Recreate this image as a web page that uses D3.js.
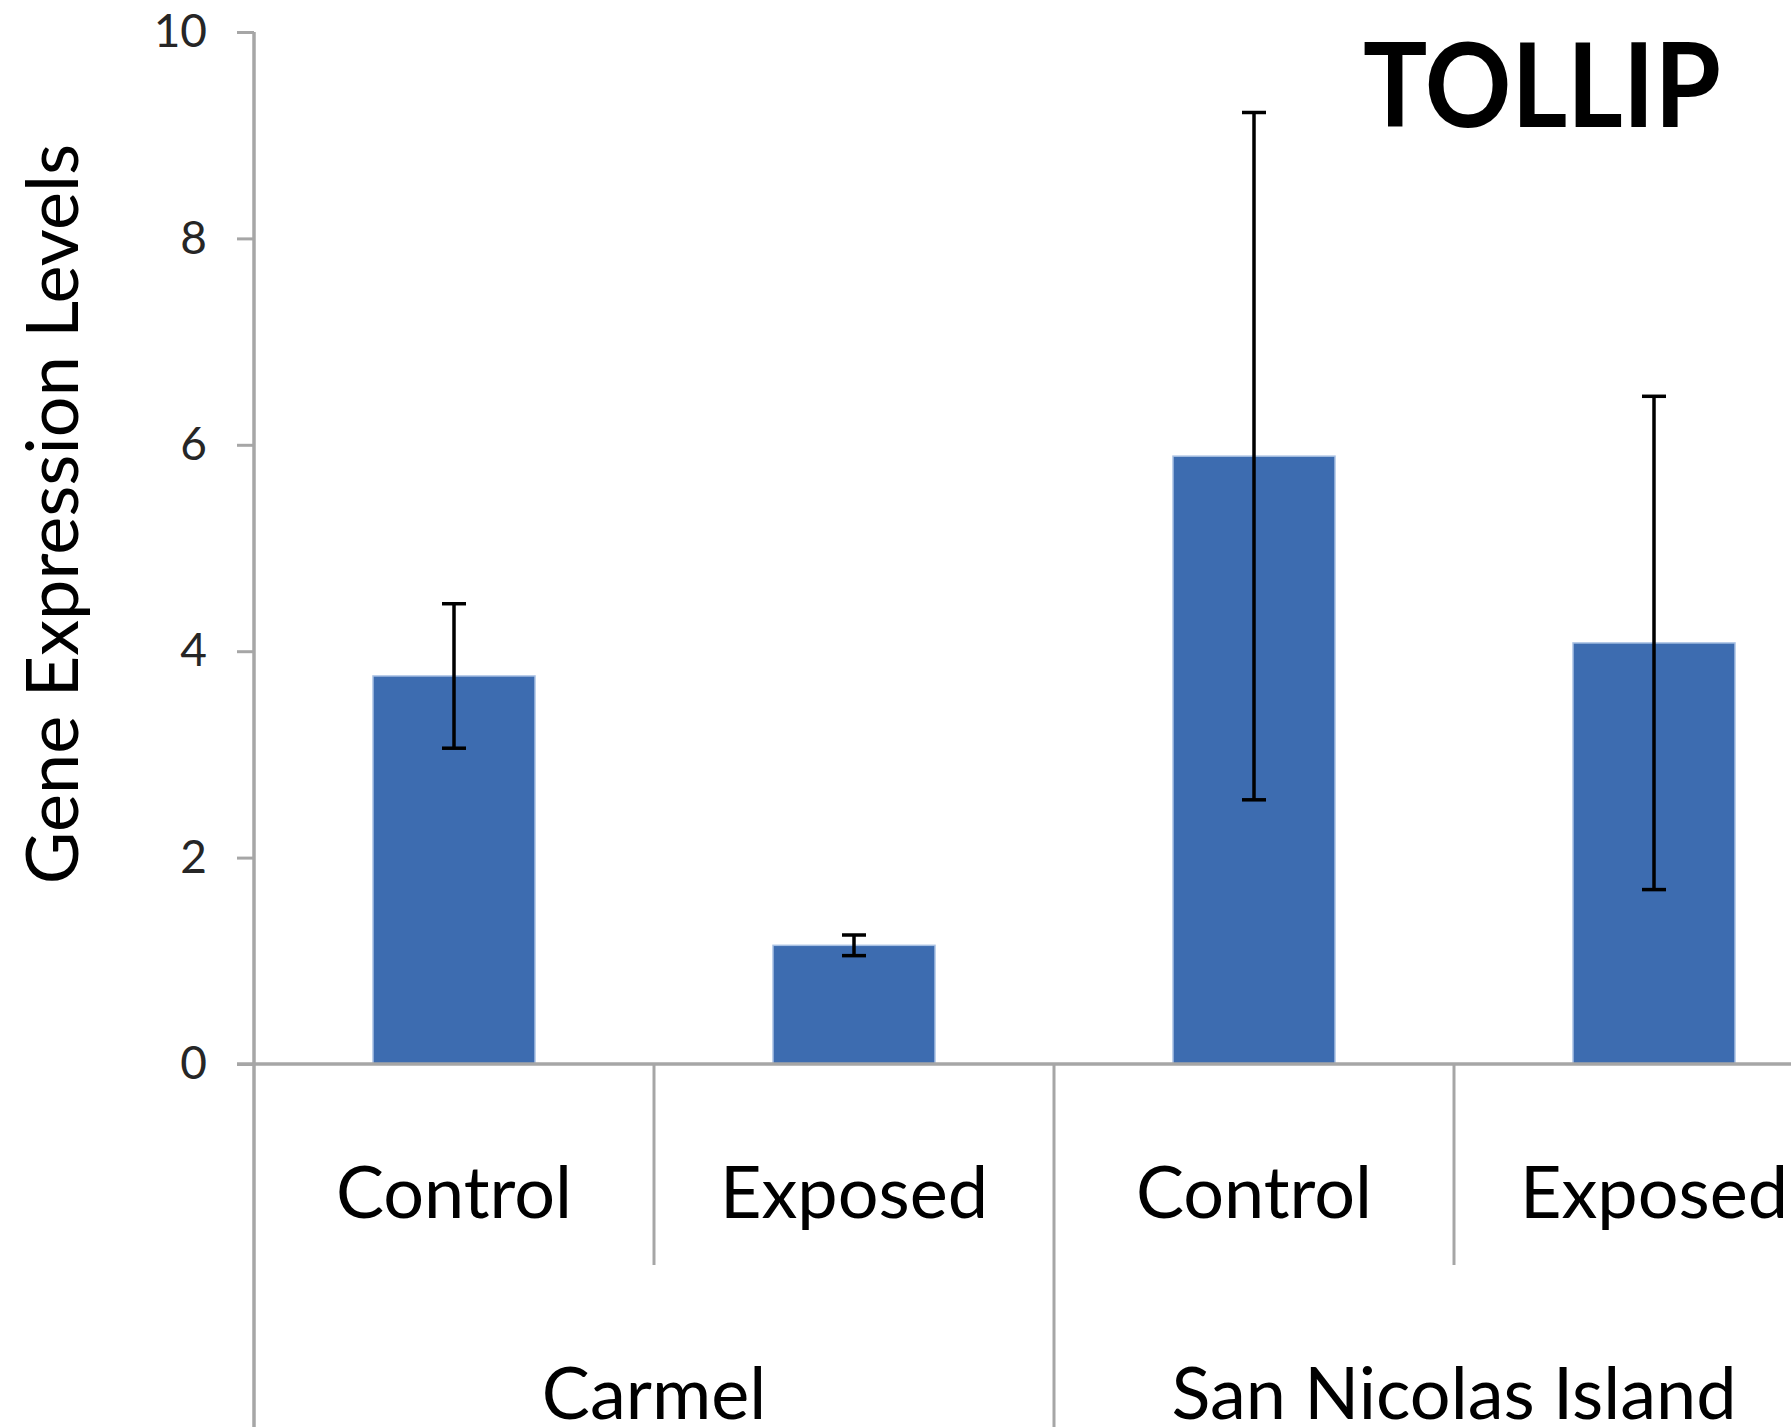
<!DOCTYPE html>
<html>
<head>
<meta charset="utf-8">
<script src="https://cdn.jsdelivr.net/npm/d3@7"></script>
<style>
  html, body { margin: 0; padding: 0; background: #fff; }
  svg { display: block; font-family: Lato, "Open Sans", sans-serif; }
</style>
</head>
<body>
<svg id="chart" width="1791" height="1427"></svg>
<script>
// Chart values
const gene = 'TOLLIP';
const groups = ['Carmel', 'San Nicolas Island'];
const conditions = ['Control', 'Exposed'];
const means = [3.76, 1.15, 5.89, 4.08];
const errors = [0.70, 0.10, 3.33, 2.39];
const yTicks = [0, 2, 4, 6, 8, 10];
const yLabel = 'Gene Expression Levels';

const svg = d3.select('#chart');
const width = 1791, height = 1427;

// plot area runs past the right edge, as in the reference
const margin = { top: 32, left: 254 };
const plotWidth = 1600;
const plotBottom = 1064;

// one row per bar
const rows = [];
groups.forEach((g, i) => {
    conditions.forEach((c, j) => {
        const k = i * conditions.length + j;
        rows.push({ key: g + '|' + c, group: g, cond: c, mean: means[k], err: errors[k] });
    });
});

const xScale = d3.scaleBand()
    .domain(rows.map(d => d.key))
    .range([margin.left, margin.left + plotWidth])
    .padding(0);

const groupScale = d3.scaleBand()
    .domain(groups)
    .range([margin.left, margin.left + plotWidth])
    .padding(0);

const yScale = d3.scaleLinear()
    .domain([0, 10])
    .range([plotBottom, margin.top]);

const axisColor = '#a6a6a6';
const barW = xScale.bandwidth() * 0.405;

// bars
svg.append('g').selectAll('rect')
    .data(rows)
    .join('rect')
    .attr('x', d => xScale(d.key) + (xScale.bandwidth() - barW) / 2)
    .attr('y', d => yScale(d.mean))
    .attr('width', barW)
    .attr('height', d => plotBottom - yScale(d.mean))
    .attr('fill', '#3d6cb0')
    .attr('stroke', '#a9c1e3')
    .attr('stroke-width', 1.5);

// y axis
const yAxis = d3.axisLeft(yScale).tickValues(yTicks).tickSize(17).tickPadding(30);
const gy = svg.append('g')
    .attr('transform', `translate(${margin.left},0)`)
    .call(yAxis);
gy.select('.domain').remove();
gy.selectAll('.tick line').attr('stroke', axisColor).attr('stroke-width', 3);
gy.selectAll('.tick text')
    .attr('fill', '#262626')
    .style('font-size', '46px')
    .style('font-family', 'Lato, sans-serif');
gy.append('line')
    .attr('x1', 0).attr('x2', 0)
    .attr('y1', margin.top).attr('y2', height)
    .attr('stroke', axisColor).attr('stroke-width', 3.5);

// x axis baseline
svg.append('line')
    .attr('x1', margin.left - 17).attr('x2', width)
    .attr('y1', plotBottom).attr('y2', plotBottom)
    .attr('stroke', axisColor).attr('stroke-width', 3.5);

// separators between conditions (short) and between groups (long)
rows.forEach((d, i) => {
    if (i === 0) return;
    const x = xScale(d.key);
    const long = i % conditions.length === 0;
    svg.append('line')
        .attr('x1', x).attr('x2', x)
        .attr('y1', plotBottom).attr('y2', long ? height : 1265)
        .attr('stroke', axisColor).attr('stroke-width', 3);
});
svg.append('line')
    .attr('x1', margin.left + plotWidth).attr('x2', margin.left + plotWidth)
    .attr('y1', plotBottom).attr('y2', height)
    .attr('stroke', axisColor).attr('stroke-width', 3);

// error bars
const eb = svg.append('g').attr('stroke', '#000').attr('stroke-width', 3.5);
rows.forEach(d => {
    const cx = xScale(d.key) + xScale.bandwidth() / 2;
    const hi = yScale(d.mean + d.err), lo = yScale(d.mean - d.err);
    eb.append('line').attr('x1', cx).attr('x2', cx).attr('y1', hi).attr('y2', lo);
    eb.append('line').attr('x1', cx - 12).attr('x2', cx + 12).attr('y1', hi).attr('y2', hi);
    eb.append('line').attr('x1', cx - 12).attr('x2', cx + 12).attr('y1', lo).attr('y2', lo);
});

// condition labels
svg.append('g').selectAll('text')
    .data(rows)
    .join('text')
    .attr('x', d => xScale(d.key) + xScale.bandwidth() / 2)
    .attr('y', 1218)
    .attr('text-anchor', 'middle')
    .attr('fill', '#000')
    .style('font-size', '72px')
    .text(d => d.cond);

// group labels (cut by the bottom edge, as in the reference)
svg.append('g').selectAll('text')
    .data(groups)
    .join('text')
    .attr('x', d => groupScale(d) + groupScale.bandwidth() / 2)
    .attr('y', 1419)
    .attr('text-anchor', 'middle')
    .attr('fill', '#000')
    .style('font-size', '72px')
    .text(d => d);

// y axis title
svg.append('text')
    .attr('transform', 'translate(78,514) rotate(-90)')
    .attr('text-anchor', 'middle')
    .attr('fill', '#000')
    .style('font-size', '72px')
    .text(yLabel);

// gene name
svg.append('text')
    .attr('x', 1363)
    .attr('y', 127)
    .attr('fill', '#000')
    .attr('textLength', 358)
    .attr('lengthAdjust', 'spacingAndGlyphs')
    .style('font-size', '117px')
    .style('font-weight', 'bold')
    .text(gene);
</script>
</body>
</html>
